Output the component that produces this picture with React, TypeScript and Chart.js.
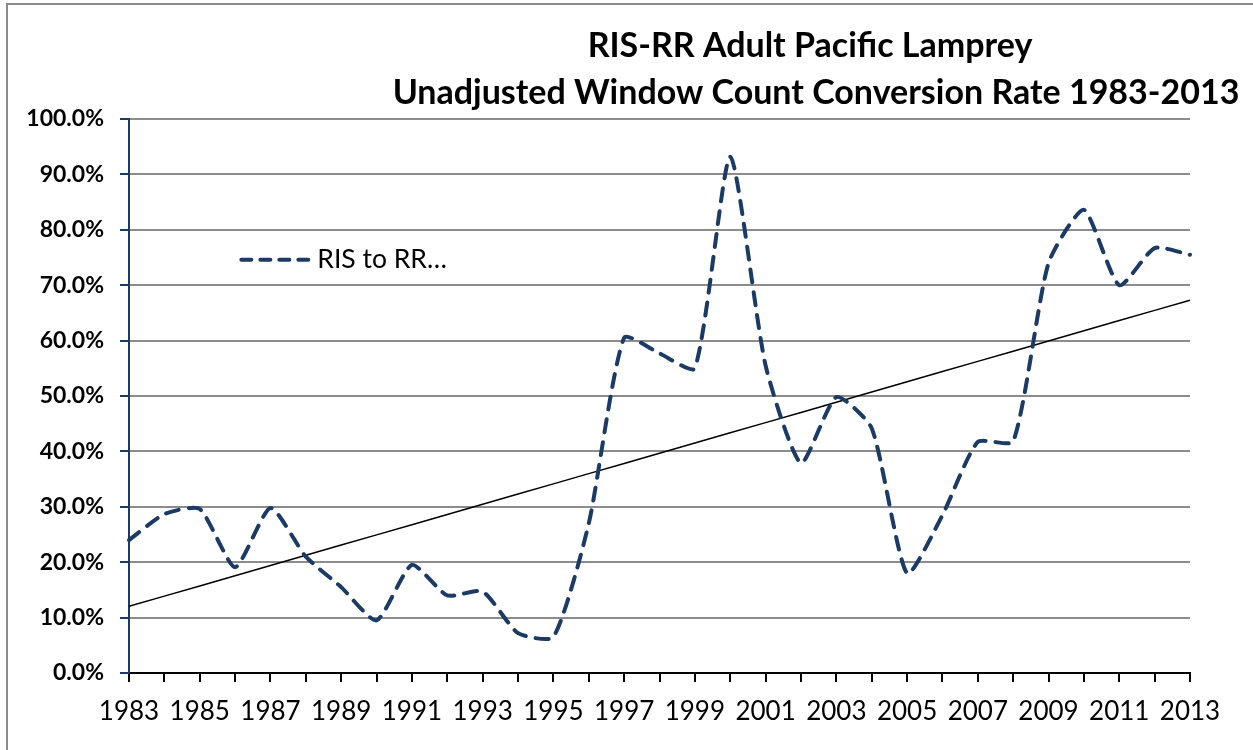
import React, { useEffect, useRef } from 'react';
import { Chart, registerables } from 'chart.js';

Chart.register(...registerables);

const years = [
  '1983', '1984', '1985', '1986', '1987', '1988', '1989', '1990', '1991', '1992',
  '1993', '1994', '1995', '1996', '1997', '1998', '1999', '2000', '2001', '2002',
  '2003', '2004', '2005', '2006', '2007', '2008', '2009', '2010', '2011', '2012', '2013',
];

const conversionRate = [
  24.0, 28.7, 29.6, 19.1, 29.8, 21.0, 15.5, 9.5, 19.5, 14.0,
  14.7, 7.2, 6.5, 27.0, 60.5, 57.7, 55.0, 93.2, 55.5, 37.9,
  49.8, 44.2, 18.0, 28.5, 41.7, 41.8, 74.0, 83.6, 70.0, 76.7, 75.5,
];

const titleLines = ['RIS-RR Adult Pacific Lamprey', 'Unadjusted Window Count Conversion Rate 1983-2013'];
const legendLabel = 'RIS to RR\u2026';

const FONT = 'Lato, "Open Sans", sans-serif';
const LINE_COLOR = '#1B3A64';

function linearTrend(values: number[]): number[] {
  const n = values.length;
  let sx = 0, sy = 0, sxx = 0, sxy = 0;
  values.forEach((v, i) => { sx += i; sy += v; sxx += i * i; sxy += i * v; });
  const slope = (n * sxy - sx * sy) / (n * sxx - sx * sx);
  const intercept = (sy - slope * sx) / n;
  return values.map((_, i) => intercept + slope * i);
}

const decorPlugin = {
  id: 'decor',
  beforeDraw(chart: any) {
    const ctx = chart.ctx;
    ctx.save();
    ctx.fillStyle = '#ffffff';
    ctx.fillRect(0, 0, chart.width, chart.height);
    ctx.strokeStyle = '#8a8a8a';
    ctx.lineWidth = 2;
    ctx.strokeRect(7, 4, chart.width + 20, chart.height + 20);
    ctx.restore();
  },
  afterDraw(chart: any) {
    const ctx = chart.ctx;
    const area = chart.chartArea;
    ctx.save();
    // Title
    ctx.fillStyle = '#000000';
    ctx.textAlign = 'center';
    ctx.textBaseline = 'middle';
    ctx.font = `bold 34px ${FONT}`;
    ctx.fillText(titleLines[0], 810, 46);
    ctx.fillText(titleLines[1], 816, 93);
    // Legend (inside plot area)
    const lx = area.left + (area.right - area.left) * 0.104;
    const ly = area.top + (area.bottom - area.top) * 0.254;
    ctx.strokeStyle = LINE_COLOR;
    ctx.lineWidth = 4;
    ctx.lineCap = 'round';
    ctx.setLineDash([10, 9]);
    ctx.beginPath();
    ctx.moveTo(lx + 2, ly);
    ctx.lineTo(lx + 72, ly);
    ctx.stroke();
    ctx.setLineDash([]);
    ctx.textAlign = 'left';
    ctx.font = `26.5px ${FONT}`;
    ctx.fillText(legendLabel, lx + 78, ly);
    ctx.restore();
  },
};

export default function App() {
  const canvasRef = useRef<HTMLCanvasElement | null>(null);

  useEffect(() => {
    if (!canvasRef.current) return;
    const trend = linearTrend(conversionRate);
    const chart = new Chart(canvasRef.current, {
      type: 'line',
      data: {
        labels: years,
        datasets: [
          {
            label: legendLabel,
            data: conversionRate,
            borderColor: LINE_COLOR,
            borderWidth: 4,
            borderDash: [13, 10],
            borderCapStyle: 'round',
            borderJoinStyle: 'round',
            pointRadius: 0,
            tension: 0.2,
            fill: false,
          },
          {
            label: 'Linear trend',
            data: trend,
            borderColor: '#000000',
            borderWidth: 1.5,
            pointRadius: 0,
            tension: 0,
            fill: false,
          },
        ],
      },
      options: {
        animation: false,
        responsive: false,
        maintainAspectRatio: false,
        devicePixelRatio: 1,
        layout: { padding: { left: 0, top: 119, right: 63, bottom: 0 } },
        plugins: {
          legend: { display: false },
          title: { display: false },
          tooltip: { enabled: false },
        },
        scales: {
          x: {
            type: 'category',
            offset: false,
            afterFit: (s: any) => { s.height = 77; },
            grid: {
              drawOnChartArea: false,
              drawTicks: true,
              tickLength: 9,
              tickColor: '#000000',
              lineWidth: 2,
              offset: false,
            },
            border: { color: '#000000', width: 2 },
            ticks: {
              autoSkip: false,
              maxRotation: 0,
              minRotation: 0,
              padding: 14,
              color: '#000000',
              font: { family: FONT, size: 26 },
              callback: (_v: any, i: number) => (i % 2 === 0 ? years[i] : ''),
            },
          },
          y: {
            min: 0,
            max: 100,
            afterFit: (s: any) => { s.width = 129; },
            grid: {
              color: (c: any) => (c.tick && c.tick.value === 0 ? 'rgba(0,0,0,0)' : '#8c8c8c'),
              lineWidth: 2,
              drawTicks: true,
              tickLength: 9,
              tickColor: LINE_COLOR,
            },
            border: { color: LINE_COLOR, width: 2 },
            ticks: {
              stepSize: 10,
              padding: 16,
              color: '#000000',
              font: { family: FONT, size: 23, weight: 'bold' },
              callback: (v: any) => `${Number(v).toFixed(1)}%`,
            },
          },
        },
      },
      plugins: [decorPlugin],
    } as any);
    return () => chart.destroy();
  }, []);

  return (
    <div style={{ position: 'absolute', left: 0, top: 0, width: 1253, height: 750, background: '#fff' }}>
      <canvas ref={canvasRef} width={1253} height={750} style={{ display: 'block' }} />
    </div>
  );
}
